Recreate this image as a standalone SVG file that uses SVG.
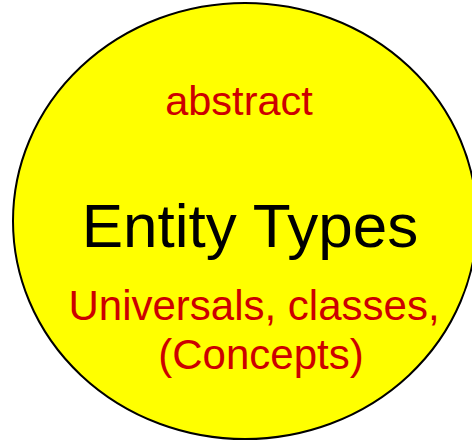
<svg xmlns="http://www.w3.org/2000/svg" width="472" height="442" viewBox="0 0 472 442">
<style>
.t{font-family:"Liberation Sans",Arial,sans-serif;text-anchor:middle}
.red{fill:#cc0000;font-size:42px}
.blk{fill:#000;font-size:62px}
</style>
<rect width="472" height="442" fill="#fff"/>
<g id="entity-types">
<ellipse cx="245" cy="221" rx="232" ry="218" fill="#ffff00" stroke="#000" stroke-width="2"/>
<text class="t red" x="239" y="115" style="font-size:41.5px">abstract</text>
<text class="t blk" x="250" y="247">Entity Types</text>
<text class="t red" x="254" y="320">Universals, classes,</text>
<text class="t red" x="261" y="369">(Concepts)</text>
</g>
</svg>
